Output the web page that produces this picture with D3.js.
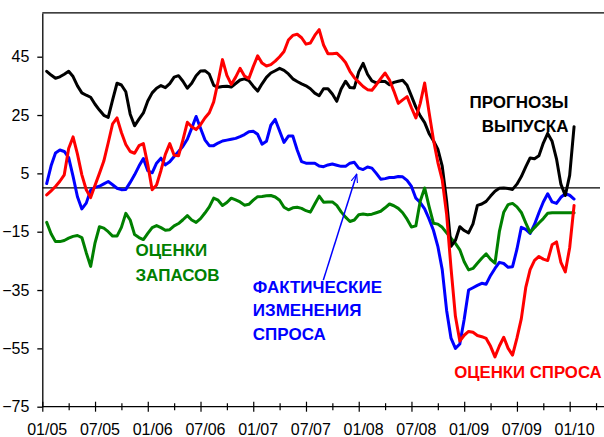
<!DOCTYPE html>
<html><head><meta charset="utf-8">
<script src="https://cdn.jsdelivr.net/npm/d3@7"></script>
<style>
body{margin:0;background:#fff}
svg{display:block}
text{font-family:"Liberation Sans",Arial,Helvetica,sans-serif}
</style>
</head><body>
<svg id="c" width="604" height="437"></svg>
<script>
// ---------- DATA (semi-monthly observations, Jan 2005 – Jan 2010) ----------
const periodCount = 121;           // half-month steps starting mid-Jan 2005
const yTicks = [-75, -55, -35, -15, 5, 25, 45];
const xTickLabels = ["01/05","07/05","01/06","07/06","01/07","07/07","01/08","07/08","01/09","07/09","01/10"];
const xLabelMonths = [0, 6, 12, 18, 24, 30, 36, 42, 48, 54, 60];

// ПРОГНОЗЫ ВЫПУСКА
const outputForecast = [
40,38.7,37.6,38.1,39.0,40.0,38.2,35.0,32.6,31.8,
31.1,28.7,26.7,24.9,24.2,30.2,35.9,35.3,33.0,25.3,
21.3,23.6,25.7,29.8,32.6,34.2,35.1,34.4,35.8,38.0,
38.5,36.6,34.2,35.9,38.5,40.1,40.2,39.0,35.2,34.5,
34.8,34.9,34.6,35.8,37.0,37.4,36.8,34.9,33.2,35.7,
37.9,39.4,40.2,41.0,40.3,39.1,37.4,36.5,35.7,35.0,
34.0,32.5,31.6,34.0,34.0,32.2,29.7,33.9,36.6,34.4,
34.3,39.8,42.7,39.0,36.7,36.0,36.6,36.5,35.4,36.2,
36.6,36.9,35.2,31.5,27.7,24.7,22.4,18.7,16.2,13.3,
7.5,-4.5,-20.0,-18.0,-13.3,-14.6,-15.4,-12.3,-6.0,-5.5,
-4.6,-2.8,-1.1,-0.1,0,-0.2,-0.5,1.3,3.9,7.2,
10.3,10.0,11.0,15.4,18.7,16.0,10.0,1.3,-2.6,4.3,
21];

// ОЦЕНКИ СПРОСА
const demandAssessment = [
-2.4,-1.0,0.5,2.3,4.5,13.5,17.5,11.6,4.5,-0.6,
-3.3,0.9,5.0,9.2,15.5,22.0,24.0,19.0,14.9,12.5,
11.9,14.5,15.2,8.0,-0.6,1.0,6.0,11.5,15.2,11.2,
11.0,16.5,22.5,21.0,20.0,21.7,24.0,25.8,29.5,36.5,
44.0,38.6,35.5,38.0,41.0,38.4,37.5,41.6,45.3,42.8,
41.8,42.3,43.5,45.0,46.8,50.7,52.3,52.7,51.5,49.3,
49.7,52.3,54.3,49.0,46.0,46.0,46.2,44.8,43.0,40.0,
37.8,36.3,34.8,33.7,33.5,35.4,37.5,39.4,37.0,33.2,
29.0,30.2,31.3,27.5,24.0,29.0,36.0,26.0,16.5,8.8,
2.8,-9.0,-27.5,-44.0,-52.5,-50.5,-49.2,-49.5,-50.6,-51.0,
-51.6,-54.3,-57.9,-54.2,-51.2,-55.0,-57.3,-51.5,-44.8,-34.2,
-28.0,-24.8,-23.5,-24.4,-24.9,-19.5,-18.5,-25.5,-28.8,-20.5,
-6];

// ФАКТИЧЕСКИЕ ИЗМЕНЕНИЯ СПРОСА
const actualDemand = [
1.5,7.6,12.0,13.0,12.5,10.4,4.0,-3.0,-7.2,-5.2,
-0.8,0.2,0.6,1.4,2.2,1.1,-0.1,-0.6,-0.5,1.9,
4.5,7.5,10.1,5.9,5.2,8.5,10.2,7.9,9.0,10.8,
12.5,14.3,16.7,20.5,24.5,20.5,16.5,14.5,14.5,15.4,
16.1,16.4,16.7,17.0,17.6,18.3,19.3,19.4,18.4,15.0,
16.0,21.5,23.5,19.5,15.6,17.8,17.8,13.0,9.0,8.5,
8.5,8.5,7.5,7.3,7.9,8.2,7.8,7.4,7.4,8.5,
8.8,6.8,6.3,7.2,6.8,5.0,3.0,3.2,3.6,3.6,
3.9,3.8,2.6,0.5,-3.5,-5.0,-7.2,-10.6,-14.5,-20.0,
-28.0,-42.0,-51.5,-55.0,-53.5,-45.0,-35.0,-34.2,-33.4,-32.7,
-33.0,-30.0,-27.6,-25.5,-25.9,-27.2,-27.0,-21.0,-13.5,-14.2,
-15.6,-12.5,-8.5,-4.8,-2.0,-4.8,-5.3,-3.2,-2.0,-2.5,
-3.8];

// ОЦЕНКИ ЗАПАСОВ
const inventoryAssessment = [
-11.8,-15.7,-18.4,-18.4,-18.0,-17.2,-16.6,-16.3,-17.0,-22.2,
-26.9,-18.8,-13.3,-13.8,-15.0,-16.5,-16.5,-13.5,-8.7,-11.0,
-16.0,-17.0,-17.7,-15.6,-13.6,-12.9,-13.6,-14.5,-14.3,-13.0,
-12.2,-10.9,-9.5,-11.0,-11.8,-10.5,-8.6,-6.5,-3.5,-4.2,
-6.0,-5.0,-3.5,-4.1,-4.8,-5.9,-5.6,-4.2,-3.0,-2.9,
-2.7,-2.6,-3.1,-4.2,-6.6,-7.5,-6.8,-6.6,-7.0,-7.8,
-8.3,-5.5,-2.8,-4.9,-4.8,-4.8,-6.0,-8.2,-10.0,-11.5,
-11.0,-9.2,-8.9,-9.2,-9.0,-8.5,-8.0,-6.8,-5.5,-6.1,
-7.0,-8.5,-10.7,-13.4,-13.0,-4.5,0.0,-6.3,-12.1,-12.4,
-13.5,-15.4,-17.2,-19.0,-21.2,-25.3,-28.1,-27.6,-25.8,-24.1,
-22.6,-24.5,-25.8,-15.0,-8.3,-5.7,-5.3,-6.5,-8.4,-12.0,
-15.3,-13.6,-12.0,-10.5,-8.7,-8.5,-8.5,-8.5,-8.5,-8.5,
-8.5];

// time of each observation in months since Jan 2005
const periods = d3.range(periodCount).map(k => 0.5 + 0.5 * k);

// ---------- CHART ----------
const svg = d3.select("#c");
const x = d3.scaleLinear().domain([0, 63.45]).range([42.3, 600]);
const y = d3.scaleLinear().domain([-75, 60]).range([406.7, 12.95]);

const series = [
  {values: actualDemand, color: "#0000ff"},
  {values: inventoryAssessment, color: "#008000"},
  {values: outputForecast, color: "#000000"},
  {values: demandAssessment, color: "#ff0000"}
];

// frame top
svg.append("line").attr("x1", x(0)).attr("x2", 604).attr("y1", y(60)).attr("y2", y(60))
  .attr("stroke", "#000").attr("stroke-width", 1.3);

// zero line
svg.append("line").attr("x1", x(0)).attr("x2", x(63.45)).attr("y1", y(0)).attr("y2", y(0))
  .attr("stroke", "#000").attr("stroke-width", 1.2);

// y axis
const yAxis = svg.append("g").attr("transform", `translate(${x(0)},0)`)
  .call(d3.axisLeft(y).tickValues(yTicks).tickSize(5).tickSizeOuter(0).tickPadding(8));
yAxis.selectAll("text").attr("font-size", 16).attr("fill", "#000")
  .style("font-family", '"Liberation Sans",Arial,sans-serif');
yAxis.selectAll("line,path").attr("stroke", "#000").attr("stroke-width", 1.3);

// x axis ticks (crossing)
const xAxis = svg.append("g").attr("transform", `translate(0,${y(-75)})`)
  .call(d3.axisBottom(x).tickValues(d3.range(0, 64, 3)).tickSize(5).tickSizeOuter(0).tickFormat(""));
xAxis.selectAll("path").attr("stroke", "#000").attr("stroke-width", 1.3).attr("d", `M${x(0)},0H604`);
xAxis.selectAll(".tick line").attr("stroke", "#000").attr("stroke-width", 1.2)
  .attr("y1", d => d % 6 === 0 ? -5 : -3.5).attr("y2", d => d % 6 === 0 ? 5 : 3.5);

// x labels centred on their month
const xLab = svg.append("g").attr("transform", `translate(0,${y(-75)})`)
  .call(d3.axisBottom(x).tickValues(xLabelMonths.map(m => m + 0.5)).tickSize(0).tickPadding(16.5)
    .tickFormat((d, i) => xTickLabels[i]));
xLab.select("path").remove();
xLab.selectAll("text").attr("font-size", 16).attr("fill", "#000")
  .style("font-family", '"Liberation Sans",Arial,sans-serif');

// lines
const line = d3.line().x((d, i) => x(periods[i])).y(d => y(d));
svg.append("g").selectAll("path").data(series).join("path")
  .attr("d", s => line(s.values))
  .attr("fill", "none").attr("stroke", s => s.color)
  .attr("stroke-width", 3).attr("stroke-linejoin", "round").attr("stroke-linecap", "round");

// annotations (data-space anchors)
const notes = [
  {t: 10.6, v: -23.5, lines: ["ОЦЕНКИ", "ЗАПАСОВ"], color: "#008000", anchor: "start", lh: 24.5, fs: 17},
  {t: 23.95, v: -35.85, lines: ["ФАКТИЧЕСКИЕ", "ИЗМЕНЕНИЯ", "СПРОСА"], color: "#0000ff", anchor: "start", lh: 23.8, fs: 17},
  {t: 59.86, v: 27.3, lines: ["ПРОГНОЗЫ", "ВЫПУСКА"], color: "#000000", anchor: "end", lh: 23.5, fs: 17},
  {t: 63.65, v: -65.3, lines: ["ОЦЕНКИ СПРОСА"], color: "#ff0000", anchor: "end", lh: 24, fs: 16.8}
];
notes.forEach(n => {
  const txt = svg.append("text").attr("x", x(n.t)).attr("y", y(n.v))
    .attr("fill", n.color).attr("font-size", n.fs).attr("font-weight", "bold")
    .attr("text-anchor", n.anchor);
  n.lines.forEach((l, i) => txt.append("tspan").attr("x", x(n.t)).attr("dy", i ? n.lh : 0).text(l));
});

// arrow
const arrow = {t0: 31.97, v0: -31.6, t1: 35.77, v1: 4.7};
svg.append("defs").append("marker").attr("id", "ah").attr("viewBox", "0 -5 12 10")
  .attr("refX", 11).attr("refY", 0).attr("markerWidth", 9).attr("markerHeight", 8)
  .attr("markerUnits", "userSpaceOnUse").attr("orient", "auto")
  .append("path").attr("d", "M0,-4.5L11,0L0,4.5").attr("fill", "none")
  .attr("stroke", "#0000ff").attr("stroke-width", 1.5);
svg.append("line").attr("x1", x(arrow.t0)).attr("y1", y(arrow.v0))
  .attr("x2", x(arrow.t1)).attr("y2", y(arrow.v1))
  .attr("stroke", "#0000ff").attr("stroke-width", 1.5).attr("marker-end", "url(#ah)");
</script>
</body></html>
